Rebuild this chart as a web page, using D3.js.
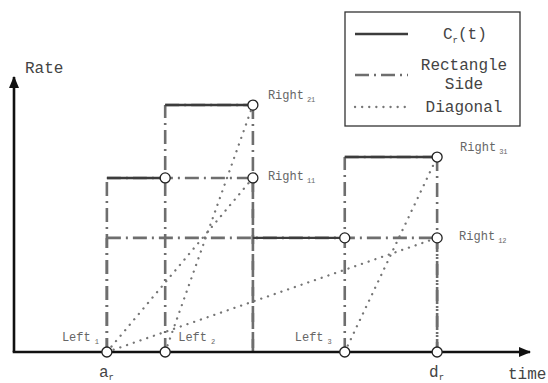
<!DOCTYPE html>
<html>
<head>
<meta charset="utf-8">
<script src="https://cdn.jsdelivr.net/npm/d3@7"></script>
<style>
  body { margin: 0; background: #fff; }
  svg text { font-family: "Liberation Mono", "DejaVu Sans Mono", monospace; }
</style>
</head>
<body>
<div id="chart"></div>
<script>
// time instants (abstract units)
const times = { a: 1.8, t2: 2.93, t4: 4.63, t5: 6.41, d: 8.2 };

// rate levels
const levels = { r11: 6.33, r21: 8.98, r12: 4.15, r31: 7.09 };

// C_r(t) step segments
const steps = [
  { t0: times.a,  t1: times.t2, rate: levels.r11 },
  { t0: times.t2, t1: times.t4, rate: levels.r21 },
  { t0: times.t4, t1: times.t5, rate: levels.r12 },
  { t0: times.t5, t1: times.d,  rate: levels.r31 }
];

// rectangles: left point on the time axis -> right corner
const rects = [
  { left: times.a,  right: times.t4, rate: levels.r11 },
  { left: times.a,  right: times.d,  rate: levels.r12 },
  { left: times.t2, right: times.t4, rate: levels.r21 },
  { left: times.t5, right: times.d,  rate: levels.r31 }
];

// open circles
const points = [
  [times.a, 0], [times.t2, 0], [times.t5, 0], [times.d, 0],
  [times.t2, levels.r11], [times.t4, levels.r11], [times.t4, levels.r21],
  [times.t5, levels.r12], [times.d, levels.r12], [times.d, levels.r31]
];

const rightLabels = [
  { sub: "21", t: times.t4, rate: levels.r21 },
  { sub: "11", t: times.t4, rate: levels.r11 },
  { sub: "31", t: times.d,  rate: levels.r31 },
  { sub: "12", t: times.d,  rate: levels.r12 }
];
const leftLabels = [
  { sub: "1", t: times.a },
  { sub: "2", t: times.t2 },
  { sub: "3", t: times.t5 }
];
const axisLabels = [
  { name: "a", sub: "r", t: times.a },
  { name: "d", sub: "r", t: times.d }
];
const legendNames = ["C_r(t)", "Rectangle|Side", "Diagonal"];

// label placement (pixels), kept apart from the data
const rightOffsets = { "21": [15, -6], "11": [15, 2], "31": [23, -6], "12": [22, 2] };
const leftOffsets = { "1": -45, "2": 13, "3": -50 };

const W = 548, H = 383;
const svg = d3.select("#chart").append("svg")
    .attr("width", W).attr("height", H);

const x = d3.scaleLinear().domain([0, 10]).range([14, 530]);
const y = d3.scaleLinear().domain([0, 10]).range([352, 77]);

const dashDot = "14,5,2,5";
const dotted = "0.1,7";
const grayDash = "#6e6e6e";
const grayDot = "#767676";

svg.append("defs").append("marker")
    .attr("id", "arrow")
    .attr("viewBox", "0 0 12 10")
    .attr("refX", 11).attr("refY", 5)
    .attr("markerWidth", 12).attr("markerHeight", 10)
    .attr("markerUnits", "userSpaceOnUse")
    .attr("orient", "auto")
  .append("path")
    .attr("d", "M0,0 L12,5 L0,10 Z")
    .attr("fill", "#111");

const line = d3.line().x(d => x(d[0])).y(d => y(d[1]));

// rectangle sides (dash-dot)
const sideLines = [];
rects.forEach(r => {
  sideLines.push([[r.left, 0], [r.left, r.rate]]);
  sideLines.push([[r.left, r.rate], [r.right, r.rate]]);
  sideLines.push([[r.right, r.rate], [r.right, 0]]);
});

svg.append("g").selectAll("path")
  .data(sideLines)
  .enter().append("path")
    .attr("d", line)
    .attr("fill", "none")
    .attr("stroke", grayDash)
    .attr("stroke-width", 2.6)
    .attr("stroke-dasharray", dashDot);

// diagonals (dotted)
svg.append("g").selectAll("path")
  .data(rects)
  .enter().append("path")
    .attr("d", r => line([[r.left, 0], [r.right, r.rate]]))
    .attr("fill", "none")
    .attr("stroke", grayDot)
    .attr("stroke-width", 2.3)
    .attr("stroke-linecap", "round")
    .attr("stroke-dasharray", dotted);

// C_r(t) solid
svg.append("g").selectAll("path")
  .data(steps)
  .enter().append("path")
    .attr("d", s => line([[s.t0, s.rate], [s.t1, s.rate]]))
    .attr("fill", "none")
    .attr("stroke", "#3c3c3c")
    .attr("stroke-width", 2.4);

// axes
svg.append("line")
    .attr("x1", x(0) - 1.3).attr("y1", y(0))
    .attr("x2", x(10)).attr("y2", y(0))
    .attr("stroke", "#111").attr("stroke-width", 2.6)
    .attr("marker-end", "url(#arrow)");
svg.append("line")
    .attr("x1", x(0)).attr("y1", y(0))
    .attr("x2", x(0)).attr("y2", y(10))
    .attr("stroke", "#111").attr("stroke-width", 2.6)
    .attr("marker-end", "url(#arrow)");

// circles
svg.append("g").selectAll("circle")
  .data(points)
  .enter().append("circle")
    .attr("cx", d => x(d[0]))
    .attr("cy", d => y(d[1]))
    .attr("r", 5)
    .attr("fill", "#fff")
    .attr("stroke", "#222")
    .attr("stroke-width", 1.3);

function subLabel(g, name, sub, px, py, size, subSize, color, gap, drop) {
  const t = g.append("text")
      .attr("x", px).attr("y", py)
      .attr("fill", color)
      .style("font-size", size + "px");
  t.append("tspan").text(name);
  t.append("tspan")
      .attr("dx", gap)
      .attr("dy", drop)
      .style("font-size", subSize + "px")
      .text(sub);
  return t;
}

rightLabels.forEach(d => {
  const o = rightOffsets[d.sub];
  subLabel(svg, "Right", d.sub, x(d.t) + o[0], y(d.rate) + o[1], 12, 7, "#666", 3, 3.4);
});
leftLabels.forEach(d => {
  subLabel(svg, "Left", d.sub, x(d.t) + leftOffsets[d.sub], y(0) - 11, 12, 7, "#666", 4, 3.4);
});
axisLabels.forEach(d => {
  subLabel(svg, d.name, d.sub, x(d.t) - 8, y(0) + 25, 16, 9, "#444", 0, 3);
});

svg.append("text")
    .attr("x", x(0) + 11).attr("y", 73)
    .attr("fill", "#444")
    .style("font-size", "16px")
    .text("Rate");
svg.append("text")
    .attr("x", 508).attr("y", y(0) + 27)
    .attr("fill", "#444")
    .style("font-size", "16px")
    .text("time");

// legend
const leg = svg.append("g");
leg.append("rect")
    .attr("x", 345).attr("y", 12)
    .attr("width", 175).attr("height", 114)
    .attr("fill", "#fff")
    .attr("stroke", "#333")
    .attr("stroke-width", 1.3);

const legendItems = [
  { y: 34, dash: null, color: "#3c3c3c", w: 2.4, cap: "butt" },
  { y: 75, dash: dashDot, color: grayDash, w: 2.6, cap: "butt" },
  { y: 107, dash: dotted, color: grayDot, w: 2.3, cap: "round" }
];
legendItems.forEach(d => {
  leg.append("line")
      .attr("x1", 355).attr("x2", 408)
      .attr("y1", d.y).attr("y2", d.y)
      .attr("stroke", d.color)
      .attr("stroke-width", d.w)
      .attr("stroke-linecap", d.cap)
      .attr("stroke-dasharray", d.dash);
});

const lt = leg.append("text")
    .attr("x", 443).attr("y", 39)
    .attr("fill", "#444")
    .style("font-size", "16px");
lt.append("tspan").text(legendNames[0].split("_")[0]);
lt.append("tspan").attr("dy", 4).style("font-size", "9px").text("r");
lt.append("tspan").attr("dy", -4).text("(t)");

const rectLines = legendNames[1].split("|");
[[rectLines[0], 70], [rectLines[1], 89], [legendNames[2], 112]].forEach(d => {
  leg.append("text")
      .attr("x", 464).attr("y", d[1])
      .attr("text-anchor", "middle")
      .attr("fill", "#444")
      .style("font-size", "16px")
      .text(d[0]);
});
</script>
</body>
</html>
